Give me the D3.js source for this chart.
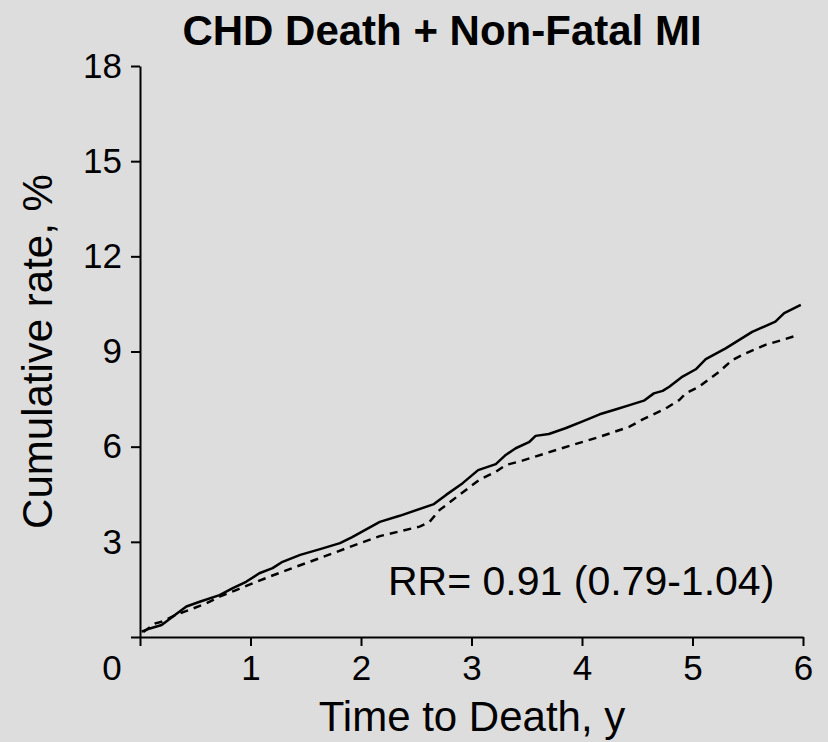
<!DOCTYPE html>
<html>
<head>
<meta charset="utf-8">
<script src="https://cdn.jsdelivr.net/npm/d3@7"></script>
<style>
  html, body { margin: 0; padding: 0; background: #dddddd; }
  svg { display: block; }
  text { font-family: Arial, "Liberation Sans", sans-serif; fill: #000; }
</style>
</head>
<body>
<svg id="chart" width="828" height="742"></svg>
<script>
// ---- Data ----
const title = "CHD Death + Non-Fatal MI";
const xLabel = "Time to Death, y";
const yLabel = "Cumulative rate, %";
const annotation = "RR= 0.91 (0.79-1.04)";
const xTicks = [1, 2, 3, 4, 5, 6];
const yTicks = [3, 6, 9, 12, 15, 18];

// Solid line: time (y), cumulative rate (%)
const solidT = [0.015, 0.09, 0.196, 0.316, 0.42, 0.54, 0.72, 0.84, 0.96, 1.08, 1.20, 1.29, 1.45, 1.63, 1.81, 1.92, 2.17, 2.35, 2.66, 2.77, 2.92, 3.06, 3.22, 3.31, 3.40, 3.52, 3.58, 3.70, 3.85, 4.00, 4.16, 4.31, 4.43, 4.56, 4.65, 4.73, 4.79, 4.91, 5.03, 5.12, 5.30, 5.54, 5.75, 5.83, 5.98];
const solidV = [0.17, 0.27, 0.38, 0.69, 0.96, 1.11, 1.32, 1.54, 1.74, 2.01, 2.17, 2.37, 2.59, 2.77, 2.96, 3.15, 3.63, 3.82, 4.19, 4.48, 4.85, 5.26, 5.45, 5.74, 5.95, 6.14, 6.34, 6.40, 6.58, 6.79, 7.02, 7.18, 7.31, 7.45, 7.68, 7.76, 7.89, 8.21, 8.44, 8.76, 9.10, 9.62, 9.94, 10.21, 10.47];

// Dashed line
const dashT = [0.03, 0.14, 0.196, 0.26, 0.32, 0.48, 0.60, 0.72, 0.87, 1.02, 1.17, 1.33, 1.63, 1.90, 2.17, 2.53, 2.62, 2.71, 2.89, 3.07, 3.22, 3.31, 3.46, 3.67, 3.91, 4.16, 4.43, 4.55, 4.76, 4.88, 4.94, 5.06, 5.24, 5.36, 5.48, 5.66, 5.81, 5.93];
const dashV = [0.16, 0.43, 0.48, 0.59, 0.69, 0.90, 1.06, 1.27, 1.48, 1.69, 1.90, 2.11, 2.49, 2.84, 3.18, 3.48, 3.63, 4.00, 4.48, 4.95, 5.21, 5.42, 5.56, 5.79, 6.05, 6.31, 6.63, 6.86, 7.21, 7.47, 7.68, 7.89, 8.36, 8.73, 8.94, 9.21, 9.36, 9.49];

// ---- Drawing ----
const svg = d3.select("#chart");
const x = d3.scaleLinear().domain([0, 6]).range([140, 803]);
const y = d3.scaleLinear().domain([0, 18]).range([637, 66]);

// Title
svg.append("text")
  .attr("x", 442).attr("y", 45)
  .attr("text-anchor", "middle")
  .style("font-size", "42px").style("font-weight", "bold")
  .text(title);

// X axis
const xAxis = svg.append("g")
  .attr("transform", `translate(0,${y(0)})`)
  .call(d3.axisBottom(x).tickValues([0, ...xTicks]).tickSize(9).tickSizeOuter(0).tickFormat(d => d === 0 ? "" : d));
xAxis.select(".domain").attr("stroke-width", 2);
xAxis.selectAll(".tick line").attr("stroke-width", 2);
xAxis.selectAll(".tick text").attr("y", 18).attr("dy", "0.71em")
  .style("font-size", "35px").style("font-family", "Arial, 'Liberation Sans', sans-serif");

// Origin label
svg.append("text")
  .attr("x", 112).attr("y", y(0) + 18).attr("dy", "0.71em")
  .attr("text-anchor", "middle")
  .style("font-size", "35px")
  .text("0");

// Y axis
const yAxis = svg.append("g")
  .attr("transform", `translate(${x(0)},0)`)
  .call(d3.axisLeft(y).tickValues([0, ...yTicks]).tickSize(9).tickSizeOuter(0).tickFormat(d => d === 0 ? "" : d));
yAxis.select(".domain").attr("stroke-width", 2);
yAxis.selectAll(".tick line").attr("stroke-width", 2);
yAxis.selectAll(".tick text").attr("x", -18)
  .style("font-size", "35px").style("font-family", "Arial, 'Liberation Sans', sans-serif");

// Axis labels
svg.append("text")
  .attr("x", 472).attr("y", 731)
  .attr("text-anchor", "middle")
  .style("font-size", "42px")
  .text(xLabel);

svg.append("text")
  .attr("transform", `translate(52,${(y(0) + y(18)) / 2}) rotate(-90)`)
  .attr("text-anchor", "middle")
  .style("font-size", "42px")
  .text(yLabel);

// Lines
const line = d3.line().x(d => x(d[0])).y(d => y(d[1])).curve(d3.curveLinear);
const solidData = solidT.map((t, i) => [t, solidV[i]]);
const dashData = dashT.map((t, i) => [t, dashV[i]]);

svg.append("path").datum(dashData)
  .attr("d", line).attr("fill", "none").attr("stroke", "#000")
  .attr("stroke-width", 2.5).attr("stroke-dasharray", "8,6");

svg.append("path").datum(solidData)
  .attr("d", line).attr("fill", "none").attr("stroke", "#000")
  .attr("stroke-width", 2.5).attr("stroke-linejoin", "round");

// Annotation
svg.append("text")
  .attr("x", 388).attr("y", 595)
  .style("font-size", "41px")
  .text(annotation);
</script>
</body>
</html>
